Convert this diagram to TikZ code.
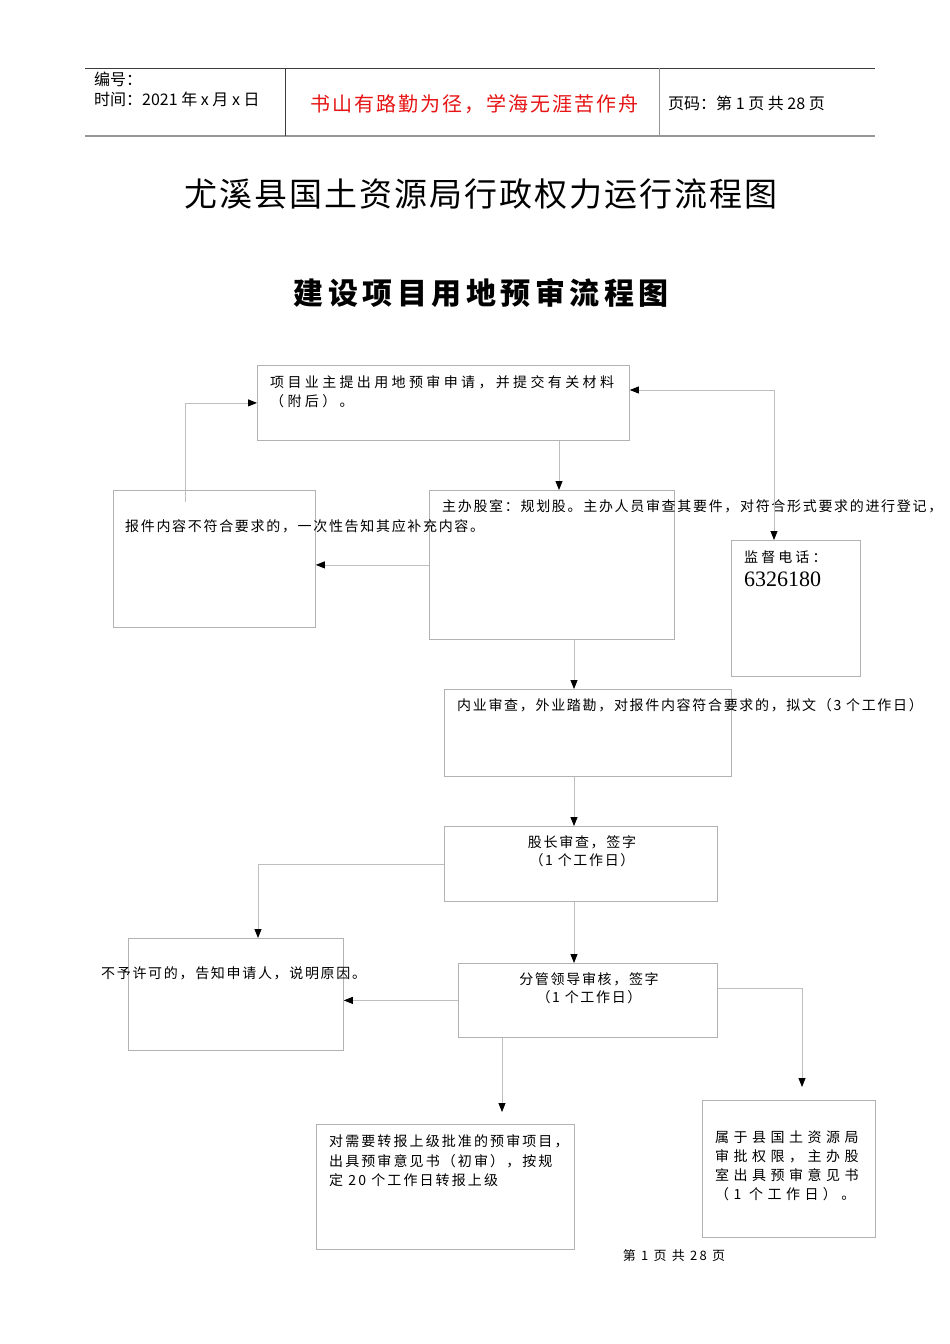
\documentclass[tikz,border=0pt]{standalone}
\usepackage{fontspec}
\usetikzlibrary{arrows.meta}
\setmainfont{Liberation Serif}
\newfontfamily\cjk{Noto Sans CJK SC}
\definecolor{boxgray}{RGB}{178,178,178}
\definecolor{linegray}{RGB}{190,190,190}
\definecolor{hdrdark}{RGB}{60,60,60}
\definecolor{hdrgray}{RGB}{150,150,150}
\definecolor{redtxt}{RGB}{230,20,20}
\newcommand{\bodyfont}[1]{\cjk\fontsize{14}{14}\selectfont\addfontfeatures{LetterSpace=#1}}
\tikzset{
  box/.style={draw=boxgray, line width=0.8pt, inner sep=0pt, anchor=north west},
  txt/.style={inner sep=0pt, anchor=base west},
  ctxt/.style={inner sep=0pt, anchor=base},
  conn/.style={draw=linegray, line width=0.8pt},
  tip/.tip={Triangle[length=9pt,width=7pt,color=black]},
  arr/.style={conn, -tip},
  dblarr/.style={conn, tip-tip}
}
\begin{document}
\begin{tikzpicture}[x=1pt,y=-1pt]
\useasboundingbox (0,0) rectangle (950,1344);
\fill[white] (0,0) rectangle (950,1344);
% header
\draw[hdrdark, line width=1pt] (85,68) -- (875,68);
\draw[hdrgray, line width=2pt] (85,136) -- (875,136);
\draw[hdrdark, line width=1pt] (285,68) -- (285,136);
\draw[hdrgray, line width=1pt] (659,68) -- (659,136);
\node[txt, font=\cjk\fontsize{16}{16}\selectfont] (h1) at (94,85.1) {编号：};
\node[txt, font=\cjk\fontsize{16}{16}\selectfont] (h2) at (94,105.1) {时间：2021 年 x 月 x 日};
\node[ctxt, text=redtxt, font=\cjk\fontsize{20}{20}\selectfont\addfontfeatures{LetterSpace=10}] (h3) at (474,111.6) {书山有路勤为径，学海无涯苦作舟};
\node[txt, font=\cjk\fontsize{16}{16}\selectfont] (h4) at (668,109.1) {页码：第 1 页 共 28 页};
% titles
\node[ctxt, font=\cjk\fontsize{33}{33}\selectfont\addfontfeatures{LetterSpace=6}] (t1) at (481,206.5) {尤溪县国土资源局行政权力运行流程图};
\node[ctxt, font=\cjk\bfseries\fontsize{30}{30}\selectfont\addfontfeatures{LetterSpace=15}] (t2) at (481,304.4) {建设项目用地预审流程图};
% boxes
\node[box, minimum width=372pt, minimum height=75pt] (A) at (257,365) {};
\node[box, minimum width=202pt, minimum height=137pt] (B) at (113,490) {};
\node[box, minimum width=245pt, minimum height=149pt] (C) at (429,490) {};
\node[box, minimum width=129pt, minimum height=136pt] (D) at (731,540) {};
\node[box, minimum width=287pt, minimum height=87pt] (E) at (444,689) {};
\node[box, minimum width=273pt, minimum height=75pt] (F) at (444,826) {};
\node[box, minimum width=215pt, minimum height=112pt] (G) at (128,938) {};
\node[box, minimum width=259pt, minimum height=74pt] (H) at (458,963) {};
\node[box, minimum width=258pt, minimum height=125pt] (I) at (316,1124) {};
\node[box, minimum width=173pt, minimum height=137pt] (J) at (702,1100) {};
% texts
\node[txt, font=\bodyfont{24}] (a1) at (270,387.3) {项目业主提出用地预审申请，并提交有关材料};
\node[txt, font=\bodyfont{24}] (a2) at (270,406.3) {（附后）。};
\node[txt, font=\bodyfont{12}] (c1) at (442,511.3) {主办股室：规划股。主办人员审查其要件，对符合形式要求的进行登记，};
\node[txt, font=\bodyfont{12}] (b1) at (125,531.3) {报件内容不符合要求的，一次性告知其应补充内容。};
\node[txt, font=\bodyfont{22}] (d1) at (744,562.3) {监督电话：};
\node[txt, font=\fontsize{22}{22}\selectfont] (d2) at (744,586.5) {6326180};
\node[txt, font=\bodyfont{12}] (e1) at (457,710.3) {内业审查，外业踏勘，对报件内容符合要求的，拟文（3 个工作日）};
\node[ctxt, font=\bodyfont{12}] (f1) at (582,847.3) {股长审查，签字};
\node[ctxt, font=\bodyfont{12}] (f2) at (582,865.3) {（1 个工作日）};
\node[txt, font=\bodyfont{12}] (g1) at (101,978.3) {不予许可的，告知申请人，说明原因。};
\node[ctxt, font=\bodyfont{12}] (hh1) at (589,984.3) {分管领导审核，签字};
\node[ctxt, font=\bodyfont{12}] (hh2) at (589,1002.3) {（1 个工作日）};
\node[txt, font=\bodyfont{15}] (i1) at (329,1146.3) {对需要转报上级批准的预审项目，};
\node[txt, font=\bodyfont{15}] (i2) at (329,1166.3) {出具预审意见书（初审），按规};
\node[txt, font=\bodyfont{15}] (i3) at (329,1185.3) {定 20 个工作日转报上级};
\node[txt, font=\bodyfont{32}] (j1) at (715,1142.3) {属于县国土资源局};
\node[txt, font=\bodyfont{32}] (j2) at (715,1161.3) {审批权限，主办股};
\node[txt, font=\bodyfont{32}] (j3) at (715,1180.3) {室出具预审意见书};
\node[txt, font=\bodyfont{32}] (j4) at (715,1199.3) {（1 个工作日）。};
\node[ctxt, font=\cjk\fontsize{13}{13}\selectfont\addfontfeatures{LetterSpace=18}] (ft) at (674,1260.9) {第 1 页 共 28 页};
% connectors
\coordinate (bs) at (185,502);
\coordinate (jt) at (802,1087);
\coordinate (it) at (502,1112);
\draw[arr] (559,0 |- A.south) -- (559,0 |- C.north);
\draw[arr] (bs) |- (A.west);
\draw[arr] (C.west) -- (C.west -| B.east);
\draw[dblarr] (A.east |- 0,390) -| (774,0 |- D.north);
\draw[arr] (574,0 |- C.south) -- (574,0 |- E.north);
\draw[arr] (574,0 |- E.south) -- (574,0 |- F.north);
\draw[arr] (F.west) -| (258,0 |- G.north);
\draw[arr] (574,0 |- F.south) -- (574,0 |- H.north);
\draw[arr] (H.west) -- (H.west -| G.east);
\draw[arr] (H.east |- 0,988) -| (jt);
\draw[arr] (502,0 |- H.south) -- (it);
\end{tikzpicture}
\end{document}
